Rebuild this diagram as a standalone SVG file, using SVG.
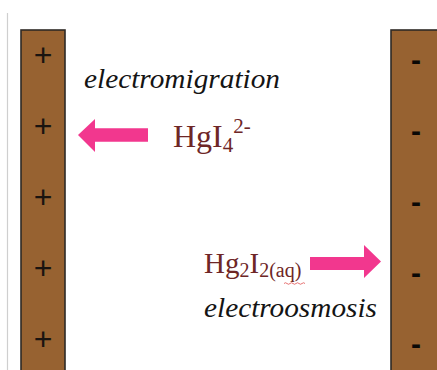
<svg xmlns="http://www.w3.org/2000/svg" width="437" height="370" viewBox="0 0 437 370">
<defs>
<style>
.bar{fill:#976231;stroke:#2e2a26;stroke-width:1.6}
.plus{font-family:"Liberation Sans",Arial,sans-serif;font-size:32px;fill:#1a1410;text-anchor:middle}
.minus{font-family:"Liberation Sans",Arial,sans-serif;font-size:30px;font-weight:bold;fill:#0a0806;text-anchor:middle}
.arrow{fill:#F2378E}
.chem{font-family:"Liberation Serif","Times New Roman",serif;fill:#6E2626}
.lab{font-family:"Liberation Serif","Times New Roman",serif;font-style:italic;font-size:28px;fill:#141414}
</style>
</defs>
<rect width="437" height="370" fill="#ffffff"/>
<line x1="7.5" y1="13" x2="7.5" y2="370" stroke="#cfcfcf" stroke-width="1.2"/>
<g id="anode">
<rect class="bar" x="21" y="30" width="44" height="345"/>
<text class="plus" x="43" y="66">+</text>
<text class="plus" x="43" y="137">+</text>
<text class="plus" x="43" y="208">+</text>
<text class="plus" x="43" y="279">+</text>
<text class="plus" x="43" y="350">+</text>
</g>
<g id="cathode">
<rect class="bar" x="391" y="30" width="50" height="345"/>
<text class="minus" x="416" y="69.5">-</text>
<text class="minus" x="416" y="140.5">-</text>
<text class="minus" x="416" y="211.5">-</text>
<text class="minus" x="416" y="282.5">-</text>
<text class="minus" x="416" y="353.5">-</text>
</g>
<g id="connectors">
<polygon class="arrow" points="78,135 95,119 95,128.3 148,128.3 148,141.7 95,141.7 95,152"/>
<polygon class="arrow" points="310,257 364,257 364,245 381,261.5 364,278 364,270 310,270"/>
</g>
<g id="electromigration">
<text class="lab" x="84" y="88" textLength="196" lengthAdjust="spacingAndGlyphs">electromigration</text>
</g>
<g id="hgi4">
<text class="chem" x="173" y="147" font-size="32">HgI<tspan font-size="21" dy="5">4</tspan><tspan font-size="21" dy="-19">2-</tspan></text>
</g>
<g id="hg2i2">
<text class="chem" x="204" y="273" font-size="29">Hg<tspan font-size="20" dy="4">2</tspan><tspan font-size="29" dy="-4">I</tspan><tspan font-size="20" dy="4">2(aq)</tspan></text>
<path d="M284,283.5 q1.5,-1.5 3,0 t3,0 t3,0 t3,0 t3,0 t3,0 t3,0" fill="none" stroke="#e05050" stroke-width="0.8"/>
</g>
<g id="electroosmosis">
<text class="lab" x="204" y="317" textLength="173" lengthAdjust="spacingAndGlyphs">electroosmosis</text>
</g>
</svg>
